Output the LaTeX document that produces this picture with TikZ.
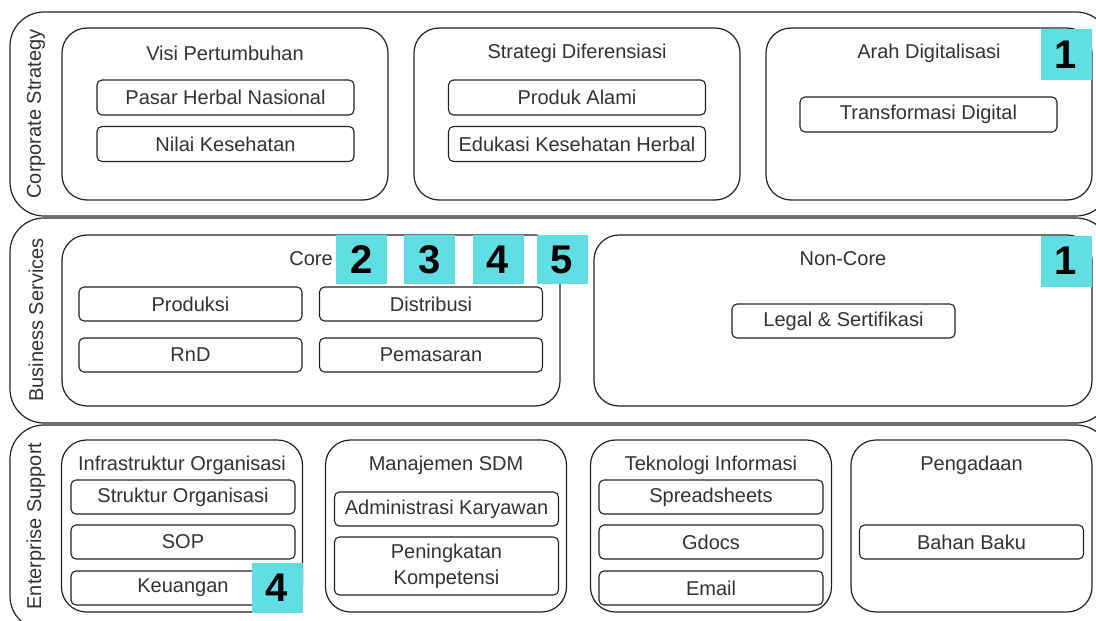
\documentclass[tikz,border=0pt]{standalone}
\usepackage{fontspec}
\setmainfont{Liberation Sans}
\definecolor{badgecyan}{RGB}{96,222,228}
\definecolor{inkgray}{RGB}{34,34,34}
\definecolor{txtgray}{RGB}{51,51,51}

\begin{document}
\begin{tikzpicture}[x=1pt, y=-1pt,
  every node/.style={font=\fontsize{20}{26}\selectfont, text=txtgray},
  band/.style={draw=inkgray, line width=1.2pt, rounded corners=34pt, inner sep=0pt},
  group/.style={draw=inkgray, line width=1.2pt, rounded corners=25pt, inner sep=0pt},
  item/.style={draw=inkgray, line width=1.1pt, rounded corners=5pt, inner sep=0pt, align=center},
  badge/.style={fill=badgecyan, minimum width=51pt, minimum height=51pt, inner sep=0pt,
    font=\fontsize{40}{40}\selectfont\bfseries, text=black},
  sidelabel/.style={rotate=90}]

\useasboundingbox (0,0) rectangle (1096,621);

% Define the bands
\node[band, minimum width=1100pt, minimum height=204pt] (CS) at (560,114) {};
\node[band, minimum width=1100pt, minimum height=205pt] (BS) at (560,320.5) {};
\node[band, minimum width=1100pt, minimum height=205pt] (ES) at (560,527.5) {};
\node[sidelabel] (CSL) at (36,114) {Corporate Strategy};
\node[sidelabel] (BSL) at (36,320) {Business Services};
\node[sidelabel] (ESL) at (36,526) {Enterprise Support};

% Corporate Strategy
\node[group, minimum width=326pt, minimum height=172pt] (VP) at (225,114) {};
\node[group, minimum width=326pt, minimum height=172pt] (SD) at (577,114) {};
\node[group, minimum width=326pt, minimum height=172pt] (AD) at (929,114) {};
\node (VPT) at (225,53) {Visi Pertumbuhan};
\node (SDT) at (577,53) {Strategi Diferensiasi};
\node (ADT) at (929,53) {Arah Digitalisasi};
\node[item, minimum width=257pt, minimum height=35pt] (PHN) at (225.5,97.5) {Pasar Herbal Nasional};
\node[item, minimum width=257pt, minimum height=35pt] (NK) at (225.5,144) {Nilai Kesehatan};
\node[item, minimum width=257pt, minimum height=35pt] (PA) at (577,97.5) {Produk Alami};
\node[item, minimum width=257pt, minimum height=35pt] (EKH) at (577,144) {Edukasi Kesehatan Herbal};
\node[item, minimum width=257pt, minimum height=35pt] (TD) at (928.5,114.5) {Transformasi Digital};

% Business Services
\node[group, minimum width=498pt, minimum height=171pt] (CO) at (311,320.5) {};
\node[group, minimum width=498pt, minimum height=171pt] (NC) at (843,320.5) {};
\node (COT) at (311,259) {Core};
\node (NCT) at (843,259) {Non-Core};
\node[item, minimum width=223pt, minimum height=34pt] (PR) at (190.5,304) {Produksi};
\node[item, minimum width=223pt, minimum height=34pt] (DI) at (431,304) {Distribusi};
\node[item, minimum width=223pt, minimum height=34pt] (RD) at (190.5,355) {RnD};
\node[item, minimum width=223pt, minimum height=34pt] (PM) at (431,355) {Pemasaran};
\node[item, minimum width=223pt, minimum height=34pt] (LS) at (843.5,321) {Legal \& Sertifikasi};

% Enterprise Support
\node[group, minimum width=241pt, minimum height=172pt] (IO) at (182,526) {};
\node[group, minimum width=241pt, minimum height=172pt] (MS) at (446,526) {};
\node[group, minimum width=241pt, minimum height=172pt] (TI) at (711,526) {};
\node[group, minimum width=241pt, minimum height=172pt] (PG) at (971.5,526) {};
\node (IOT) at (182,465) {Infrastruktur Organisasi};
\node (MST) at (446,465) {Manajemen SDM};
\node (TIT) at (711,465) {Teknologi Informasi};
\node (PGT) at (971.5,465) {Pengadaan};
\node[item, minimum width=224pt, minimum height=34pt] (SO) at (183,497) {Struktur Organisasi};
\node[item, minimum width=224pt, minimum height=34pt] (SOP) at (183,542) {SOP};
\node[item, minimum width=224pt, minimum height=34pt] (KU) at (183,588) {Keuangan};
\node[item, minimum width=224pt, minimum height=34pt] (AK) at (446.5,509) {Administrasi Karyawan};
\node[item, minimum width=224pt, minimum height=58pt] (PK) at (446.5,566) {Peningkatan\\Kompetensi};
\node[item, minimum width=224pt, minimum height=34pt] (SS) at (711,497) {Spreadsheets};
\node[item, minimum width=224pt, minimum height=34pt] (GD) at (711,542) {Gdocs};
\node[item, minimum width=224pt, minimum height=34pt] (EM) at (711,588) {Email};
\node[item, minimum width=224pt, minimum height=34pt] (BB) at (971.5,542) {Bahan Baku};

% Badges
\node[badge] (B1a) at (1066,54.5) {1};
\node[badge] (B1b) at (1066,261) {1};
\node[badge, minimum height=49pt] (B2) at (361.5,259.5) {2};
\node[badge, minimum height=49pt] (B3) at (429.5,259.5) {3};
\node[badge, minimum height=49pt] (B4a) at (498,259.5) {4};
\node[badge, minimum height=49pt] (B5) at (562,259.5) {5};
\node[badge, minimum height=50pt] (B4b) at (277,587.5) {4};

\end{tikzpicture}
\end{document}
